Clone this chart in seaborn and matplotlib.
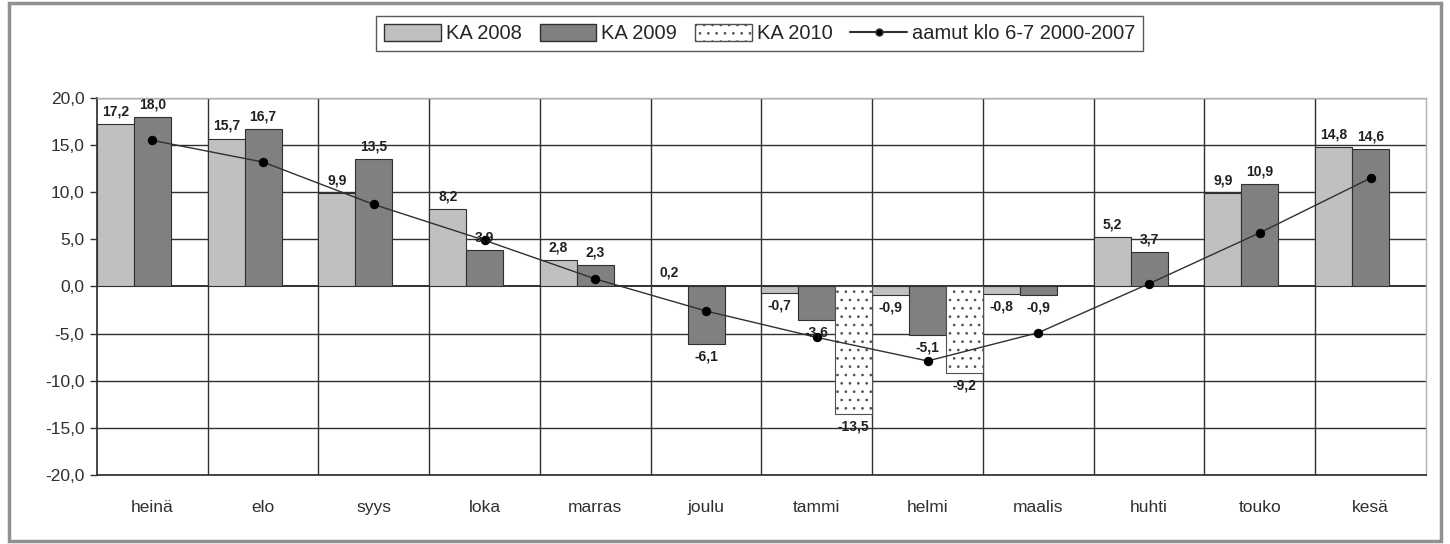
import numpy as np
import pandas as pd
import matplotlib
matplotlib.use("Agg")
import matplotlib.pyplot as plt
from matplotlib.patches import Rectangle, Patch
from matplotlib.lines import Line2D
import seaborn as sns

# dati
months = ["heinä", "elo", "syys", "loka", "marras", "joulu",
          "tammi", "helmi", "maalis", "huhti", "touko", "kesä"]
ka_2008 = [17.2, 15.7, 9.9, 8.2, 2.8, 0.2, -0.7, -0.9, -0.8, 5.2, 9.9, 14.8]
ka_2009 = [18.0, 16.7, 13.5, 3.9, 2.3, -6.1, -3.6, -5.1, -0.9, 3.7, 10.9, 14.6]
ka_2010 = [np.nan] * 6 + [-13.5, -9.2] + [np.nan] * 4
aamut = [15.5, 13.2, 8.7, 4.9, 0.8, -2.6, -5.4, -7.9, -4.9, 0.3, 5.7, 11.5]
series_names = ["KA 2008", "KA 2009", "KA 2010"]
yticks = [-20, -15, -10, -5, 0, 5, 10, 15, 20]

sns.set_theme(style="white")
plt.rcParams['font.family'] = ['Liberation Sans', 'DejaVu Sans']
plt.rcParams['hatch.linewidth'] = 0.7

df = pd.DataFrame({
    "month": months * 3,
    "value": ka_2008 + ka_2009 + ka_2010,
    "series": [s for s in series_names for _ in months],
})

fig = plt.figure(figsize=(14.5, 5.44), dpi=100)
ax = fig.add_axes([0.0669, 0.1268, 0.9165, 0.6931])

colors = {"KA 2008": "#c0c0c0", "KA 2009": "#808080", "KA 2010": "#ffffff"}
sns.barplot(data=df, x="month", y="value", hue="series", order=months,
            hue_order=series_names, palette=colors, width=1.0, dodge=True,
            edgecolor="#303030", linewidth=0.8, ax=ax, legend=False, zorder=3)

# pattern a puntini per KA 2010
for bar in ax.containers[2]:
    bar.set_hatch("..")
    bar.set_edgecolor("#505050")

sns.lineplot(x=months, y=aamut, sort=False, color="#303030", linewidth=1.0,
             marker="o", markersize=6, markerfacecolor="black",
             markeredgecolor="black", ax=ax, zorder=5)

# etichette dei valori (i NaN non generano barre)
for cont, vals in zip(ax.containers, [ka_2008, ka_2009, ka_2010]):
    vals = [v for v in vals if not np.isnan(v)]
    for bar, v in zip(cont, vals):
        x = bar.get_x() + bar.get_width() / 2
        txt = f"{v:.1f}".replace(".", ",")
        off, va = (4, "bottom") if v >= 0 else (-4, "top")
        ax.annotate(txt, (x, v), xytext=(0, off), textcoords="offset points",
                    ha="center", va=va, fontsize=10, fontweight="bold",
                    color="#202020", zorder=6)

ax.set_ylim(-20, 20)
ax.set_xlim(-0.5, len(months) - 0.5)
ax.set_yticks(yticks)
ax.set_yticklabels([f"{t:.1f}".replace(".", ",") for t in yticks],
                   fontsize=12.5, color="#303030")
ax.tick_params(axis="y", which="both", left=True, length=5, width=1,
               color="#303030", pad=4)
ax.tick_params(axis="x", length=0, pad=18, labelsize=12.5, labelcolor="#303030")
ax.set_xlabel("")
ax.set_ylabel("")

# griglia
for t in yticks:
    ax.axhline(t, color="#303030", linewidth=1.0 if t != 0 else 1.4, zorder=1)
for i in range(1, len(months)):
    ax.axvline(i - 0.5, color="#303030", linewidth=1.0, zorder=1)

for side in ["top", "right"]:
    ax.spines[side].set_color("#b0b0b0")
    ax.spines[side].set_linewidth(1.0)
ax.spines["left"].set_color("#303030")
ax.spines["bottom"].set_color("#303030")

# legenda
handles = [
    Patch(facecolor="#c0c0c0", edgecolor="#303030", label="KA 2008"),
    Patch(facecolor="#808080", edgecolor="#303030", label="KA 2009"),
    Patch(facecolor="white", edgecolor="#505050", hatch="..", label="KA 2010"),
    Line2D([0], [0], color="#303030", marker="o", markersize=5,
           markerfacecolor="black", label="aamut klo 6-7 2000-2007"),
]
leg = fig.legend(handles=handles, loc="center", bbox_to_anchor=(0.524, 0.938),
                 ncol=4, frameon=True, fancybox=False, fontsize=14.5,
                 handlelength=2.8, handleheight=0.9, handletextpad=0.25,
                 columnspacing=0.9, borderpad=0.4)
leg.get_frame().set_edgecolor("#303030")
leg.get_frame().set_linewidth(1.0)

# cornice esterna
fig.patches.append(Rectangle((0.006, 0.006), 0.988, 0.988, transform=fig.transFigure,
                             fill=False, edgecolor="#909090", linewidth=2.5))

plt.savefig("out.png", dpi=100)
